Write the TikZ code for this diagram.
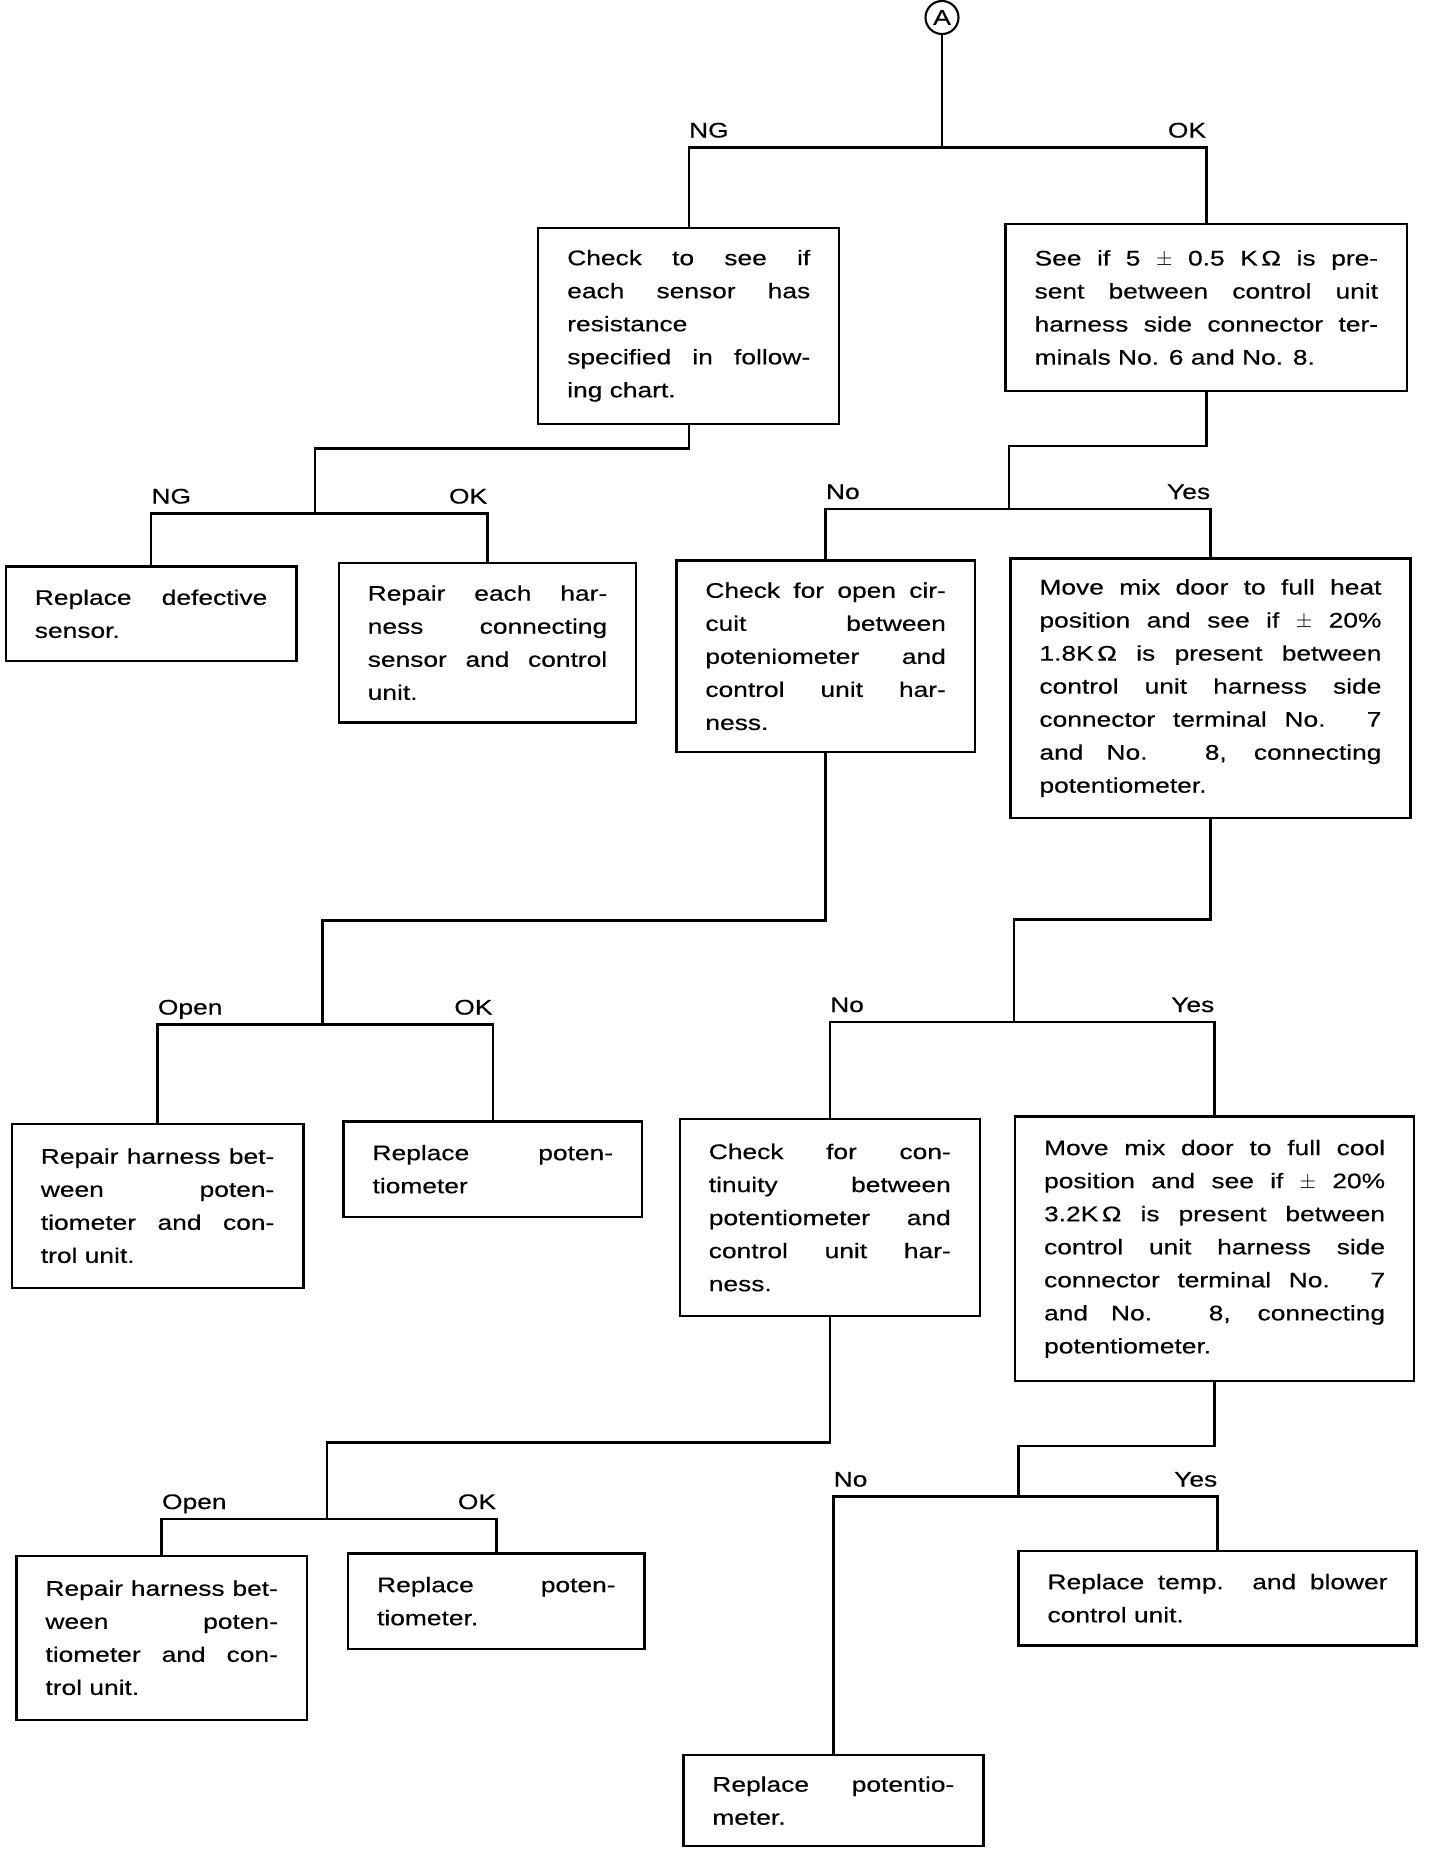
\documentclass[tikz,border=0pt]{standalone}
\usepackage{fontspec}
\setmainfont{Liberation Sans}[FakeStretch=1.25, FakeBold=0.4]
\usetikzlibrary{positioning}
\newcommand{\boxpar}{\tolerance=10000\relax\hbadness=10000\relax\hyphenpenalty=10000\relax}
\tikzset{
  block/.style={rectangle, draw, line width=1.4pt, align=justify, inner xsep=0.58cm, inner ysep=0.1cm,
    font=\fontsize{12}{18.8}\selectfont\boxpar},
  line/.style={line width=1.4pt}
}
\begin{document}
\begin{tikzpicture}[
  lbl/.style={font=\fontsize{12}{14}\selectfont, inner sep=0pt},
  conn/.style={circle, draw, line width=1.2pt, minimum size=0.66cm, inner sep=0pt, font=\fontsize{12}{14}\selectfont}
]
\useasboundingbox (0,0) rectangle (28.8,-37.0);
%--- start ---
\node[conn] (A) at (18.84,-0.35) {A};
\node[block, text width=4.86cm, minimum height=3.92cm] (chksens) at (13.775,-6.516)
  {Check to see if\linebreak each sensor has\linebreak resistance\newline specified in follow-\linebreak ing chart.};
\node[block, text width=6.87cm, minimum height=3.33cm] (see5) at (24.127,-6.150)
  {See if 5 $\pm$ 0.5 K\,Ω is pre-\linebreak sent between control unit\linebreak harness side connector ter-\linebreak minals No. 6 and No. 8.};
\coordinate (j0) at (18.84,-2.95);
\draw[line] (A) -- (j0);
\draw[line] (chksens.north) |- (j0) -| (see5.north);
\node[lbl, anchor=base west, yshift=0.2cm] at (chksens.north |- j0) {NG};
\node[lbl, anchor=base east, yshift=0.2cm] at (see5.north |- j0) {OK};

%--- sensor check ---
\node[block, text width=4.65cm, minimum height=1.89cm] (repsens) at (3.022,-12.276)
  {Replace defective\linebreak sensor.};
\node[block, text width=4.79cm, minimum height=3.19cm] (repharn) at (9.750,-12.854)
  {Repair each har-\linebreak ness connecting\linebreak sensor and control\linebreak unit.};
\coordinate (k1) at (6.30,-8.97);
\coordinate (j1) at (6.30,-10.27);
\draw[line] (chksens.south) |- (k1) -- (j1);
\draw[line] (repsens.north) |- (j1) -| (repharn.north);
\node[lbl, anchor=base west, yshift=0.2cm] at (repsens.north |- j1) {NG};
\node[lbl, anchor=base east, yshift=0.2cm] at (repharn.north |- j1) {OK};

%--- 5 kOhm check ---
\node[block, text width=4.81cm, minimum height=3.83cm] (opencir) at (16.513,-13.126)
  {Check for open cir-\linebreak cuit between\linebreak poteniometer and\linebreak control unit har-\linebreak ness.};
\node[block, text width=6.84cm, minimum height=5.19cm] (heat) at (24.209,-13.763)
  {Move mix door to full heat\linebreak position and see if $\pm$ 20\%\linebreak 1.8K\,Ω is present between\linebreak control unit harness side\linebreak connector terminal No. 7\linebreak and No. 8, connecting\linebreak potentiometer.};
\coordinate (k2) at (20.18,-8.92);
\coordinate (j2) at (20.18,-10.18);
\draw[line] (see5.south) |- (k2) -- (j2);
\draw[line] (opencir.north) |- (j2) -| (heat.north);
\node[lbl, anchor=base west, yshift=0.2cm] at (opencir.north |- j2) {No};
\node[lbl, anchor=base east, yshift=0.2cm] at (heat.north |- j2) {Yes};

%--- open circuit ---
\node[block, text width=4.67cm, minimum height=3.28cm] (repair1) at (3.152,-24.115)
  {Repair harness bet-\linebreak ween poten-\linebreak tiometer and con-\linebreak trol unit.};
\node[block, text width=4.81cm, minimum height=1.91cm] (replpot1) at (9.856,-23.383)
  {Replace poten-\linebreak tiometer};
\coordinate (k3) at (6.45,-18.41);
\coordinate (j3) at (6.45,-20.49);
\draw[line] (opencir.south) |- (k3) -- (j3);
\draw[line] (repair1.north) |- (j3) -| (replpot1.north);
\node[lbl, anchor=base west, yshift=0.2cm] at (repair1.north |- j3) {Open};
\node[lbl, anchor=base east, yshift=0.2cm] at (replpot1.north |- j3) {OK};

%--- full heat ---
\node[block, text width=4.84cm, minimum height=3.94cm] (contin) at (16.596,-24.351)
  {Check for con-\linebreak tinuity between\linebreak potentiometer and\linebreak control unit har-\linebreak ness.};
\node[block, text width=6.82cm, minimum height=5.29cm] (cool) at (24.292,-24.976)
  {Move mix door to full cool\linebreak position and see if $\pm$ 20\%\linebreak 3.2K\,Ω is present between\linebreak control unit harness side\linebreak connector terminal No. 7\linebreak and No. 8, connecting\linebreak potentiometer.};
\coordinate (k4) at (20.28,-18.39);
\coordinate (j4) at (20.28,-20.44);
\draw[line] (heat.south) |- (k4) -- (j4);
\draw[line] (contin.north) |- (j4) -| (cool.north);
\node[lbl, anchor=base west, yshift=0.2cm] at (contin.north |- j4) {No};
\node[lbl, anchor=base east, yshift=0.2cm] at (cool.north |- j4) {Yes};

%--- continuity ---
\node[block, text width=4.65cm, minimum height=3.28cm] (repair2) at (3.234,-32.755)
  {Repair harness bet-\linebreak ween poten-\linebreak tiometer and con-\linebreak trol unit.};
\node[block, text width=4.77cm, minimum height=1.91cm] (replpot2) at (9.927,-32.023)
  {Replace poten-\linebreak tiometer.};
\coordinate (k5) at (6.54,-28.85);
\coordinate (j5) at (6.54,-30.38);
\draw[line] (contin.south) |- (k5) -- (j5);
\draw[line] (repair2.north) |- (j5) -| (replpot2.north);
\node[lbl, anchor=base west, yshift=0.2cm] at (repair2.north |- j5) {Open};
\node[lbl, anchor=base east, yshift=0.2cm] at (replpot2.north |- j5) {OK};

%--- full cool ---
\node[block, text width=4.84cm, minimum height=1.82cm] (replpot3) at (16.667,-36.013)
  {Replace potentio-\linebreak meter.};
\node[block, text width=6.80cm, minimum height=1.89cm] (replctl) at (24.351,-31.964)
  {Replace temp. and blower\linebreak control unit.};
\coordinate (k6) at (20.37,-28.92);
\coordinate (j6) at (20.37,-29.93);
\draw[line] (cool.south) |- (k6) -- (j6);
\draw[line] (replpot3.north) |- (j6) -| (replctl.north);
\node[lbl, anchor=base west, yshift=0.2cm] at (replpot3.north |- j6) {No};
\node[lbl, anchor=base east, yshift=0.2cm] at (replctl.north |- j6) {Yes};
\end{tikzpicture}
\end{document}
